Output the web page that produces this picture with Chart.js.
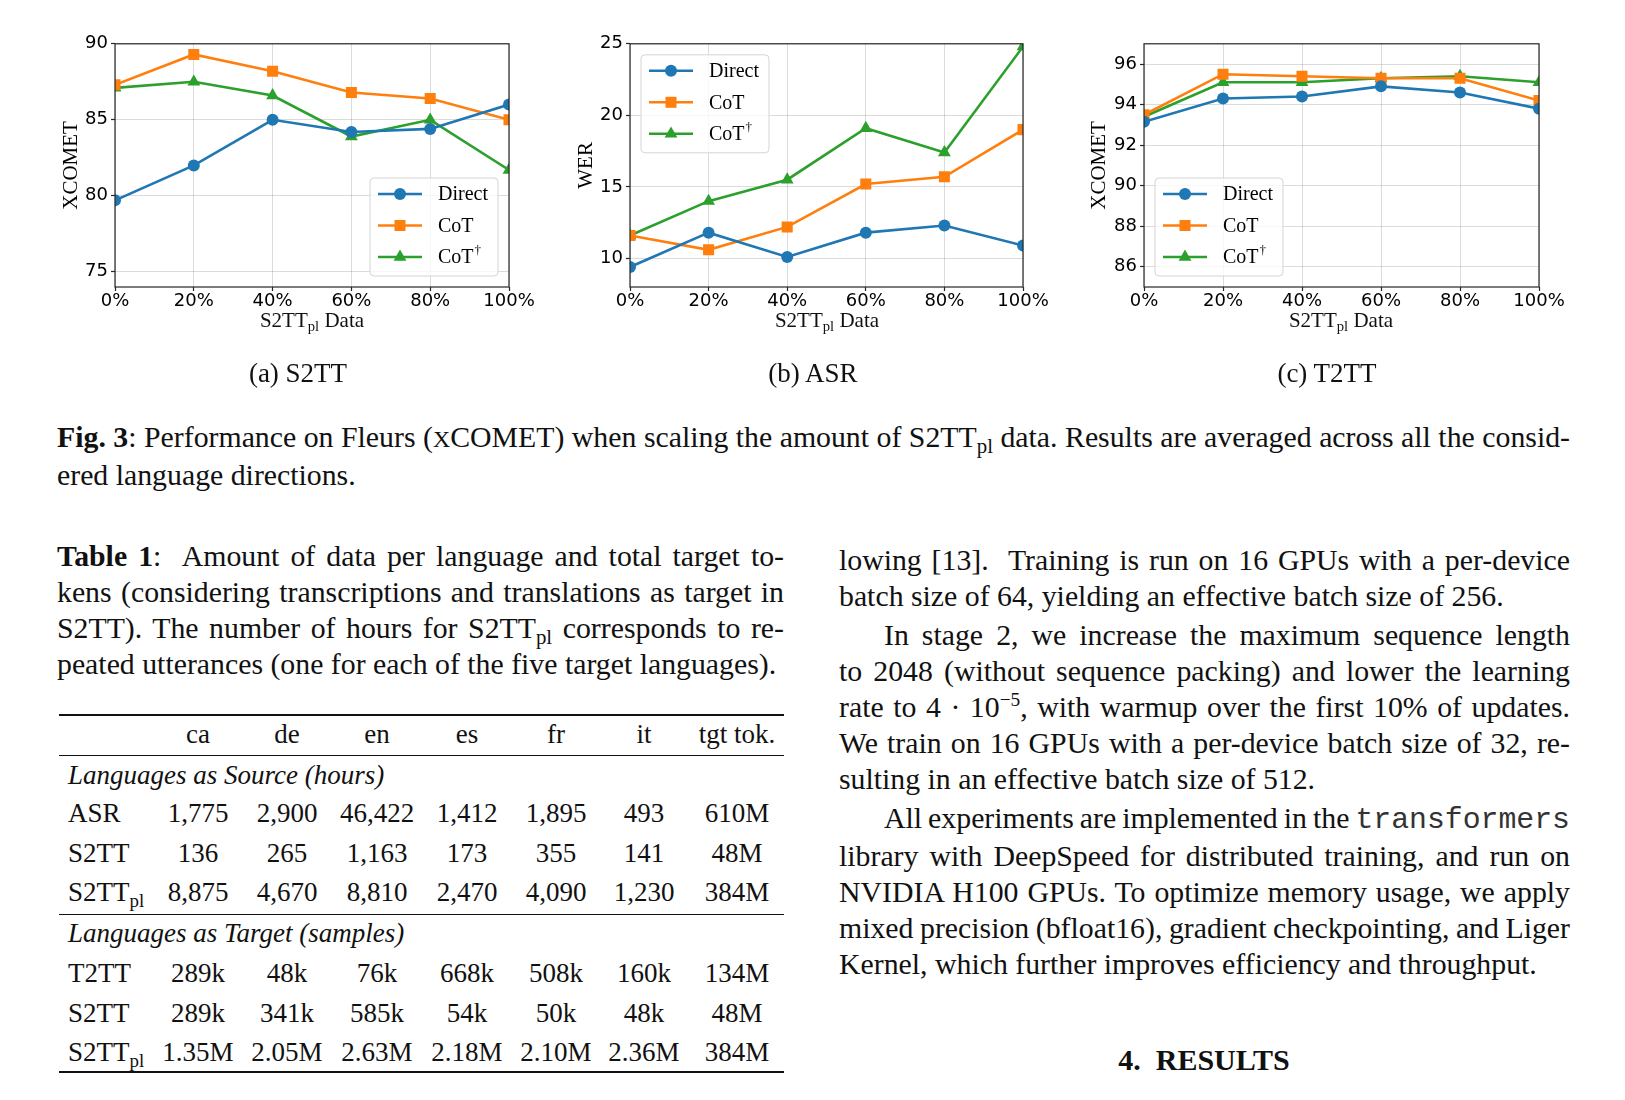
<!DOCTYPE html>
<html>
<head>
<meta charset="utf-8">
<script src="https://cdn.jsdelivr.net/npm/chart.js@4.4.1/dist/chart.umd.min.js"></script>
<style>
  body { margin: 0; background: #fff; width: 1625px; height: 1100px; position: relative; overflow: hidden;
         font-family: "Liberation Serif", "Times New Roman", serif; color: #111; }
  canvas { position: absolute; top: 30px; }
  .abs { position: absolute; white-space: nowrap; }
  .xt { font-size: 21px; line-height: 24px; transform: translateX(-50%); top: 308px; }
  .sub { font-size: 27px; line-height: 30px; transform: translateX(-50%); top: 358px; }
  sub { font-size: 70%; vertical-align: baseline; position: relative; top: 0.3em; line-height: 0; }
  sup { font-size: 65%; vertical-align: baseline; position: relative; top: -0.55em; line-height: 0; }
  .txt { position: absolute; font-size: 29.8px; line-height: 36px; }
  .txt div { text-align: justify; text-align-last: justify; white-space: nowrap; word-spacing: -4px; }
  .txt div.last { text-align-last: left; word-spacing: 0; }
  .txt div.ind { text-indent: 45px; }
  .scx { font-size: 80%; }
  .mono { font-family: "Liberation Mono", "DejaVu Sans Mono", monospace; color: #333; word-spacing: 0; }
  .rule { position: absolute; left: 59px; width: 725px; background: #111; }
  .row { position: absolute; left: 0; font-size: 27px; line-height: 36px; }
  .row span { position: absolute; white-space: nowrap; transform: translateX(-50%); }
  .row span.lab { transform: none; }
  .grp { position: absolute; left: 68px; font-size: 27px; line-height: 36px; font-style: italic; white-space: nowrap; }
</style>
</head>
<body>

<canvas id="s2tt"></canvas>
<canvas id="asr"></canvas>
<canvas id="t2tt"></canvas>

<div class="abs xt" style="left:312px">S2TT<sub>pl</sub> Data</div>
<div class="abs xt" style="left:827px">S2TT<sub>pl</sub> Data</div>
<div class="abs xt" style="left:1341px">S2TT<sub>pl</sub> Data</div>

<div class="abs sub" style="left:298px">(a) S2TT</div>
<div class="abs sub" style="left:813px">(b) ASR</div>
<div class="abs sub" style="left:1327px">(c) T2TT</div>

<div class="txt" style="left:57px; top:419px; width:1513px">
  <div><b>Fig. 3</b>: Performance on Fleurs (<span class="scx">X</span>COMET) when scaling the amount of S2TT<sub>pl</sub> data. Results are averaged across all the consid-</div>
  <div class="last">ered language directions.</div>
</div>

<div class="txt" style="left:57px; top:538px; width:727px">
  <div><b>Table 1</b>:&nbsp; Amount of data per language and total target to-</div>
  <div>kens (considering transcriptions and translations as target in</div>
  <div>S2TT). The number of hours for S2TT<sub>pl</sub> corresponds to re-</div>
  <div class="last">peated utterances (one for each of the five target languages).</div>
</div>

<div class="rule" style="top:714px; height:2px"></div>
<div class="rule" style="top:755px; height:1.3px"></div>
<div class="rule" style="top:914px; height:1.3px"></div>
<div class="rule" style="top:1071px; height:2px"></div>

<div id="table"></div>

<div class="txt" style="left:839px; top:542px; width:731px">
  <div>lowing [13].&nbsp; Training is run on 16 GPUs with a per-device</div>
  <div class="last">batch size of 64, yielding an effective batch size of 256.</div>
</div>
<div class="txt" style="left:839px; top:617px; width:731px">
  <div class="ind">In stage 2, we increase the maximum sequence length</div>
  <div>to 2048 (without sequence packing) and lower the learning</div>
  <div>rate to 4 · 10<sup>−5</sup>, with warmup over the first 10% of updates.</div>
  <div>We train on 16 GPUs with a per-device batch size of 32, re-</div>
  <div class="last">sulting in an effective batch size of 512.</div>
</div>
<div class="txt" style="left:839px; top:800px; width:731px">
  <div class="ind">All experiments are implemented in the <span class="mono">transformers</span></div>
  <div>library with DeepSpeed for distributed training, and run on</div>
  <div>NVIDIA H100 GPUs. To optimize memory usage, we apply</div>
  <div>mixed precision (bfloat16), gradient checkpointing, and Liger</div>
  <div class="last">Kernel, which further improves efficiency and throughput.</div>
</div>

<div class="abs" style="left:1204px; top:1042px; transform:translateX(-50%); font-size:30px; line-height:36px; font-weight:bold">4.&nbsp; RESULTS</div>

<script>
// x axis: share of S2TT_pl data
const xLabels = ['0%', '20%', '40%', '60%', '80%', '100%'];
const seriesNames = ['Direct', 'CoT', 'CoT†'];
const seriesColors = ['#1f77b4', '#ff7f0e', '#2ca02c'];

// (a) S2TT, XCOMET
const s2ttDirect = [79.7, 82.0, 85.0, 84.2, 84.4, 86.0];
const s2ttCot    = [87.3, 89.3, 88.2, 86.8, 86.4, 85.0];
const s2ttCotDag = [87.1, 87.5, 86.6, 83.9, 85.0, 81.7];
const s2ttTicks  = [75, 80, 85, 90];
const s2ttRange  = [74, 90];

// (b) ASR, WER
const asrDirect = [9.4, 11.8, 10.1, 11.8, 12.3, 10.9];
const asrCot    = [11.6, 10.6, 12.2, 15.2, 15.7, 19.0];
const asrCotDag = [11.6, 14.0, 15.5, 19.1, 17.4, 24.8];
const asrTicks  = [10, 15, 20, 25];
const asrRange  = [8, 25];

// (c) T2TT, XCOMET
const t2ttDirect = [93.15, 94.3, 94.4, 94.9, 94.6, 93.8];
const t2ttCot    = [93.5, 95.5, 95.4, 95.3, 95.3, 94.2];
const t2ttCotDag = [93.4, 95.1, 95.1, 95.3, 95.4, 95.1];
const t2ttTicks  = [86, 88, 90, 92, 94, 96];
const t2ttRange  = [85, 97];

// table 1
const tableCols = ['ca', 'de', 'en', 'es', 'fr', 'it', 'tgt tok.'];
const srcRows = [
  ['ASR', '1,775', '2,900', '46,422', '1,412', '1,895', '493', '610M'],
  ['S2TT', '136', '265', '1,163', '173', '355', '141', '48M'],
  ['S2TT<sub>pl</sub>', '8,875', '4,670', '8,810', '2,470', '4,090', '1,230', '384M']
];
const tgtRows = [
  ['T2TT', '289k', '48k', '76k', '668k', '508k', '160k', '134M'],
  ['S2TT', '289k', '341k', '585k', '54k', '50k', '48k', '48M'],
  ['S2TT<sub>pl</sub>', '1.35M', '2.05M', '2.63M', '2.18M', '2.10M', '2.36M', '384M']
];

const markers = ['circle', 'rect', 'triangle'];
const markerSize = [6, 7.8, 7.4];

function drawMarker(ctx, style, r, x, y) {
  ctx.beginPath();
  if (style === 'circle') {
    ctx.arc(x, y, r, 0, Math.PI * 2);
  } else if (style === 'rect') {
    const s = r * Math.SQRT1_2;
    ctx.rect(x - s, y - s, 2 * s, 2 * s);
  } else {
    ctx.moveTo(x, y - r);
    ctx.lineTo(x + r * 0.866, y + r * 0.5);
    ctx.lineTo(x - r * 0.866, y + r * 0.5);
    ctx.closePath();
  }
  ctx.fill();
}

// frame on all four sides + matplotlib-like legend inside the axes
const boxAndLegend = {
  id: 'boxAndLegend',
  afterDatasetsDraw(chart, args, opts) {
    const { ctx, chartArea: a } = chart;
    ctx.save();
    ctx.strokeStyle = '#262626';
    ctx.lineWidth = 1.2;
    ctx.strokeRect(a.left, a.top, a.right - a.left, a.bottom - a.top);

    const w = 128, h = 98, m = 11;
    const left = opts.corner.includes('right') ? a.right - m - w : a.left + m;
    const top = opts.corner.includes('lower') ? a.bottom - m - h : a.top + m;
    ctx.beginPath();
    ctx.roundRect(left, top, w, h, 4);
    ctx.fillStyle = 'rgba(255,255,255,0.8)';
    ctx.fill();
    ctx.strokeStyle = '#d4d4d4';
    ctx.lineWidth = 1;
    ctx.stroke();

    chart.data.datasets.forEach((ds, i) => {
      const y = top + 16 + i * 31.5;
      ctx.strokeStyle = ds.borderColor;
      ctx.lineWidth = ds.borderWidth;
      ctx.beginPath();
      ctx.moveTo(left + 8, y);
      ctx.lineTo(left + 52, y);
      ctx.stroke();
      ctx.fillStyle = ds.borderColor;
      drawMarker(ctx, ds.pointStyle, ds.pointRadius, left + 30, y);

      ctx.fillStyle = '#000';
      ctx.textBaseline = 'middle';
      ctx.textAlign = 'left';
      ctx.font = '20px "Liberation Serif"';
      let label = ds.label, dag = label.endsWith('†');
      if (dag) label = label.slice(0, -1);
      ctx.fillText(label, left + 68, y + 1);
      if (dag) {
        const tw = ctx.measureText(label).width;
        ctx.font = '13px "Liberation Serif"';
        ctx.fillText('†', left + 68 + tw + 1, y - 6);
      }
    });
    ctx.restore();
  }
};

const tickFont = { family: 'DejaVu Sans', size: 18 };
const gridStyle = {
  color: 'rgba(0,0,0,0.14)',
  borderDash: [3, 3],
  lineWidth: 1,
  tickColor: '#262626',
  tickBorderDash: [],
  tickLength: 4,
  tickWidth: 1.2
};

function makeChart(id, canvasLeft, plotLeft, plotRight, values, yTicks, yRange, yTitle, corner) {
  const cv = document.getElementById(id);
  const W = plotRight + 30 - canvasLeft;
  cv.width = W;
  cv.height = 290;
  cv.style.left = canvasLeft + 'px';
  const yWidth = plotLeft - canvasLeft;

  new Chart(cv, {
    type: 'line',
    data: {
      labels: xLabels,
      datasets: values.map((v, i) => ({
        label: seriesNames[i],
        data: v,
        borderColor: seriesColors[i],
        backgroundColor: seriesColors[i],
        borderWidth: 2.6,
        pointStyle: markers[i],
        pointRadius: markerSize[i],
        pointBorderWidth: 0,
        tension: 0,
        clip: 0
      }))
    },
    options: {
      responsive: false,
      animation: false,
      layout: { padding: { left: 0, top: 12, right: 30, bottom: 0 } },
      plugins: {
        legend: { display: false },
        tooltip: { enabled: false },
        boxAndLegend: { corner: corner }
      },
      scales: {
        x: {
          type: 'category',
          offset: false,
          border: { display: false },
          grid: gridStyle,
          ticks: { font: tickFont, color: '#000', padding: 0, maxRotation: 0, autoSkip: false },
          afterFit: (s) => { s.height = 33; }
        },
        y: {
          min: yRange[0],
          max: yRange[1],
          border: { display: false },
          grid: gridStyle,
          ticks: { font: tickFont, color: '#000', padding: 3 },
          afterBuildTicks: (s) => { s.ticks = yTicks.map(v => ({ value: v })); },
          afterFit: (s) => { s.width = yWidth; },
          title: {
            display: true,
            text: yTitle,
            color: '#000',
            font: { family: 'Liberation Serif', size: 21, lineHeight: 1.2 },
            padding: { top: 19, bottom: 0 }
          }
        }
      }
    },
    plugins: [boxAndLegend]
  });
}

function buildTable() {
  const cx = [198, 287, 377, 467, 556, 644, 737];
  const host = document.getElementById('table');
  const addRow = (cells, top, header) => {
    const r = document.createElement('div');
    r.className = 'row';
    r.style.top = top + 'px';
    let html = '';
    if (!header) html += '<span class="lab" style="left:68px">' + cells[0] + '</span>';
    const vals = header ? cells : cells.slice(1);
    vals.forEach((c, i) => { html += '<span style="left:' + cx[i] + 'px">' + c + '</span>'; });
    r.innerHTML = html;
    host.appendChild(r);
  };
  const addGroup = (text, top) => {
    const g = document.createElement('div');
    g.className = 'grp';
    g.style.top = top + 'px';
    g.textContent = text;
    host.appendChild(g);
  };
  addRow(tableCols, 716, true);
  addGroup('Languages as Source (hours)', 757);
  srcRows.forEach((r, i) => addRow(r, 795 + i * 39.5));
  addGroup('Languages as Target (samples)', 915);
  tgtRows.forEach((r, i) => addRow(r, 955 + i * 39.5));
}

(() => {
  makeChart('s2tt', 40, 115, 509, [s2ttDirect, s2ttCot, s2ttCotDag], s2ttTicks, s2ttRange, 'XCOMET', 'lower right');
  makeChart('asr', 555, 630, 1023, [asrDirect, asrCot, asrCotDag], asrTicks, asrRange, 'WER', 'upper left');
  makeChart('t2tt', 1068, 1144, 1539, [t2ttDirect, t2ttCot, t2ttCotDag], t2ttTicks, t2ttRange, 'XCOMET', 'lower left');
  buildTable();
})();
</script>
</body>
</html>
